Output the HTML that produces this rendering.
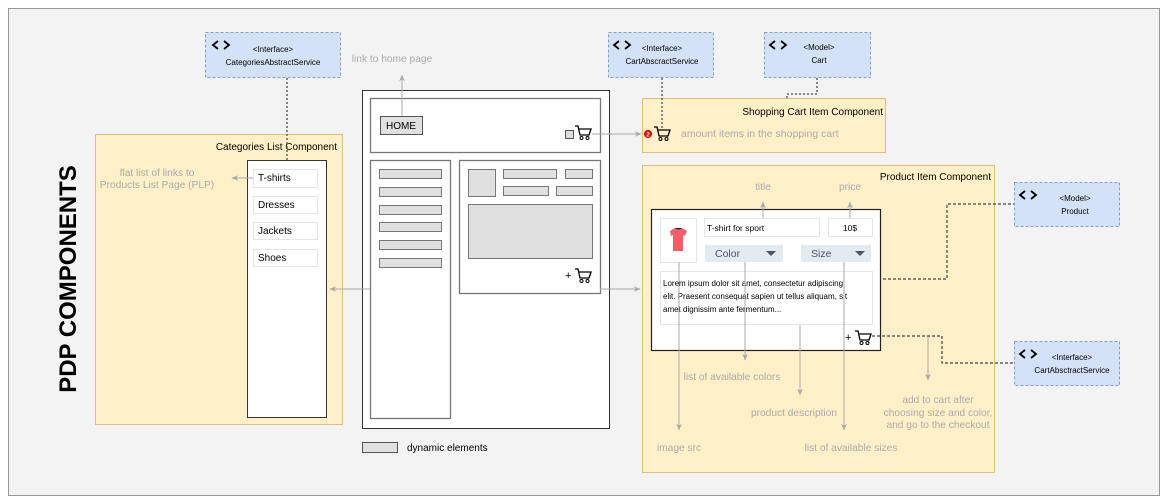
<!DOCTYPE html>
<html><head><meta charset="utf-8"><style>
html,body{margin:0;padding:0;background:#fff}
svg{display:block;font-family:"Liberation Sans",Arial,sans-serif}
</style></head><body>
<svg width="1168" height="502" viewBox="0 0 1168 502" xmlns="http://www.w3.org/2000/svg">
<defs>
<marker id="ar" viewBox="0 0 10 10" refX="9" refY="5" markerWidth="7" markerHeight="7" orient="auto"><path d="M0,1 L10,5 L0,9 L3,5z" fill="#aaa"/></marker>
<g id="cart"><path d="M0,0 L3,0 L5,9 L14,9 L16,3 L4,3" fill="none" stroke="#000" stroke-width="1.3"/><circle cx="6.5" cy="12" r="1.5" fill="none" stroke="#000"/><circle cx="12.5" cy="12" r="1.5" fill="none" stroke="#000"/></g>
<g id="code"><path d="M5,0 L0,4 L5,8 M11,0 L16,4 L11,8" fill="none" stroke="#000" stroke-width="1.8"/></g>
</defs>
<rect x="8.5" y="8.5" width="1151" height="487" fill="#f3f3f3" stroke="#999"/>
<text transform="translate(76,279) rotate(-90)" text-anchor="middle" font-size="24" font-weight="bold">PDP COMPONENTS</text>

<g font-size="8" text-anchor="middle">
<rect x="205.5" y="32.5" width="135" height="45" fill="#d4e2f7" stroke="#7ea0cc" stroke-dasharray="3,2"/>
<use href="#code" x="213" y="41"/><text x="273" y="52">&lt;Interface&gt;</text><text x="273" y="65">CategoriesAbstractService</text>
<rect x="608.5" y="32.5" width="105" height="45" fill="#d4e2f7" stroke="#7ea0cc" stroke-dasharray="3,2"/>
<use href="#code" x="614" y="41"/><text x="662" y="51">&lt;Interface&gt;</text><text x="662" y="64">CartAbscractService</text>
<rect x="764.5" y="32.5" width="106" height="45" fill="#d4e2f7" stroke="#7ea0cc" stroke-dasharray="3,2"/>
<use href="#code" x="770" y="41"/><text x="819" y="50">&lt;Model&gt;</text><text x="819" y="63">Cart</text>
<rect x="1014.5" y="182.5" width="105" height="44" fill="#d4e2f7" stroke="#7ea0cc" stroke-dasharray="3,2"/>
<use href="#code" x="1020" y="191"/><text x="1075" y="201">&lt;Model&gt;</text><text x="1075" y="214">Product</text>
<rect x="1014.5" y="341.5" width="105" height="44" fill="#d4e2f7" stroke="#7ea0cc" stroke-dasharray="3,2"/>
<use href="#code" x="1020" y="350"/><text x="1072" y="360">&lt;Interface&gt;</text><text x="1072" y="373">CartAbsctractService</text>
</g>

<rect x="95.5" y="134.5" width="247" height="290" fill="#fff0c8" stroke="#dcbf7a"/>
<text x="337" y="150" font-size="10" text-anchor="end">Categories List Component</text>
<rect x="247.5" y="160.5" width="79" height="257" fill="#fff" stroke="#333"/>
<g font-size="10"><rect x="253.5" y="169.5" width="64" height="18" fill="#fff" stroke="#e6e6e6"/><text x="258" y="181">T-shirts</text>
<rect x="253.5" y="196.5" width="64" height="17" fill="#fff" stroke="#e6e6e6"/><text x="258" y="208">Dresses</text>
<rect x="253.5" y="222.5" width="64" height="17" fill="#fff" stroke="#e6e6e6"/><text x="258" y="234">Jackets</text>
<rect x="253.5" y="249.5" width="64" height="17" fill="#fff" stroke="#e6e6e6"/><text x="258" y="261">Shoes</text></g>
<g font-size="10.2" fill="#aaa" text-anchor="middle"><text x="157" y="176">flat list of links to</text><text x="157" y="188">Products List Page (PLP)</text>
<text x="392" y="62">link to home page</text></g>
<line x1="253" y1="178" x2="232" y2="178" stroke="#aaa" marker-end="url(#ar)"/>
<line x1="287" y1="78" x2="287" y2="160" stroke="#666" stroke-dasharray="2,2" stroke-width="1.5"/>

<rect x="362.5" y="90.5" width="247" height="338" fill="#fff" stroke="#333"/>
<rect x="370.5" y="98.5" width="230" height="54" fill="#fff" stroke="#777" stroke-width="1.3"/>
<rect x="380.5" y="116.5" width="42" height="18" fill="#e0e0e0" stroke="#555"/>
<text x="401" y="129" font-size="10" text-anchor="middle">HOME</text>
<line x1="402" y1="116" x2="402" y2="75" stroke="#aaa" marker-end="url(#ar)"/>
<rect x="565.5" y="130.5" width="8" height="8" fill="#ddd" stroke="#555"/>
<use href="#cart" x="575" y="126"/>
<line x1="592" y1="134" x2="641" y2="134" stroke="#aaa" marker-end="url(#ar)"/>
<rect x="370.5" y="160.5" width="80" height="258" fill="#fff" stroke="#777" stroke-width="1.3"/>
<g fill="#e0e0e0" stroke="#777"><rect x="379.5" y="169.5" width="62" height="9"/><rect x="379.5" y="187.5" width="62" height="9"/><rect x="379.5" y="205.5" width="62" height="9"/><rect x="379.5" y="222.5" width="62" height="9"/><rect x="379.5" y="240.5" width="62" height="9"/><rect x="379.5" y="258.5" width="62" height="9"/></g>
<rect x="459.5" y="160.5" width="141" height="133" fill="#fff" stroke="#777" stroke-width="1.3"/>
<g fill="#e0e0e0" stroke="#777"><rect x="468.5" y="169.5" width="27" height="27"/><rect x="503.5" y="169.5" width="53" height="9"/><rect x="565.5" y="169.5" width="27" height="9"/><rect x="503.5" y="186.5" width="45" height="9"/><rect x="556.5" y="186.5" width="36" height="9"/><rect x="468.5" y="204.5" width="124" height="54"/></g>
<text x="565" y="279" font-size="11">+</text><use href="#cart" x="575" y="269"/>
<line x1="370" y1="289" x2="330" y2="289" stroke="#aaa" marker-end="url(#ar)"/>
<line x1="600" y1="289" x2="640" y2="289" stroke="#aaa" marker-end="url(#ar)"/>
<rect x="362.5" y="442.5" width="35" height="10" fill="#e0e0e0" stroke="#555"/>
<text x="407" y="451" font-size="10">dynamic elements</text>

<rect x="642.5" y="98.5" width="243" height="54" fill="#fff0c8" stroke="#dcbf7a"/>
<text x="883" y="115" font-size="10" text-anchor="end">Shopping Cart Item Component</text>
<line x1="662" y1="78" x2="662" y2="128" stroke="#666" stroke-dasharray="2,2" stroke-width="1.5"/>
<path d="M817,78 V94 H787 V98" fill="none" stroke="#666" stroke-dasharray="2,2" stroke-width="1.5"/>
<circle cx="648" cy="134" r="4" fill="#e00"/><text x="648" y="136.5" font-size="6" fill="#fff" text-anchor="middle" font-weight="bold">2</text>
<use href="#cart" x="654" y="127"/>
<text x="681" y="137" font-size="10.5" fill="#aaa">amount items in the shopping cart</text>

<rect x="642.5" y="165.5" width="352" height="307" fill="#fff0c8" stroke="#dcbf7a"/>
<text x="991" y="180" font-size="10" text-anchor="end">Product Item Component</text>
<g font-size="10.2" fill="#aaa" text-anchor="middle">
<text x="763" y="190">title</text><text x="850" y="190">price</text>
<text x="732" y="380">list of available colors</text>
<text x="794" y="416">product description</text>
<text x="938" y="403">add to cart after</text><text x="938" y="416">choosing size and color,</text><text x="938" y="428">and go to the checkout</text>
<text x="679" y="451">image src</text><text x="851" y="451">list of available sizes</text>
</g>
<rect x="651.5" y="209.5" width="229" height="141" fill="#fff" stroke="#222" stroke-width="1.2"/>
<rect x="660.5" y="218.5" width="36" height="44" fill="#fff" stroke="#e6e6e6"/>
<path d="M670,231 L675,228 L682,228 L687,231 L685,236 L683,235 L683,251 L673,251 L673,235 L671,236z" fill="#f55d67"/>
<path d="M675,228 Q678.5,231 682,228z" fill="#1b1b4b"/>
<rect x="704.5" y="218.5" width="115" height="18" fill="#fff" stroke="#e6e6e6"/><text x="707" y="231" font-size="8.5">T-shirt for sport</text>
<rect x="828.5" y="218.5" width="44" height="18" fill="#fff" stroke="#e6e6e6"/><text x="850" y="231" font-size="8.5" text-anchor="middle">10$</text>
<rect x="705" y="245" width="78" height="17" fill="#e5e9f0"/><text x="715" y="257" font-size="10.5" fill="#4a5568">Color</text><path d="M766,251 L776,251 L771,256z" fill="#4a5568"/>
<rect x="801" y="245" width="70" height="17" fill="#e5e9f0"/><text x="811" y="257" font-size="10.5" fill="#4a5568">Size</text><path d="M855,251 L865,251 L860,256z" fill="#4a5568"/>
<rect x="660.5" y="271.5" width="212" height="53" fill="#fff" stroke="#e6e6e6"/>
<g font-size="8"><text x="663" y="286">Lorem ipsum dolor sit amet, consectetur adipiscing</text><text x="663" y="299">elit. Praesent consequat sapien ut tellus aliquam, sit</text><text x="663" y="312">amet dignissim ante fermentum...</text></g>
<text x="845" y="341" font-size="11">+</text><use href="#cart" x="855" y="331"/>
<g stroke="#aaa" fill="none">
<line x1="763" y1="218" x2="763" y2="202" marker-end="url(#ar)"/>
<line x1="850" y1="218" x2="850" y2="202" marker-end="url(#ar)"/>
<line x1="679" y1="262" x2="679" y2="430" marker-end="url(#ar)"/>
<line x1="745" y1="262" x2="745" y2="360" marker-end="url(#ar)"/>
<line x1="800" y1="325" x2="800" y2="395" marker-end="url(#ar)"/>
<line x1="844" y1="262" x2="844" y2="430" marker-end="url(#ar)"/>
<line x1="928" y1="336" x2="928" y2="380" marker-end="url(#ar)"/>
</g>
<g stroke="#444" fill="none" stroke-dasharray="3,2" stroke-width="1.2">
<path d="M883,279 H947 V204 H1014"/>
<path d="M872,336 H942 V363 H1014"/>
</g>
</svg>
</body></html>
